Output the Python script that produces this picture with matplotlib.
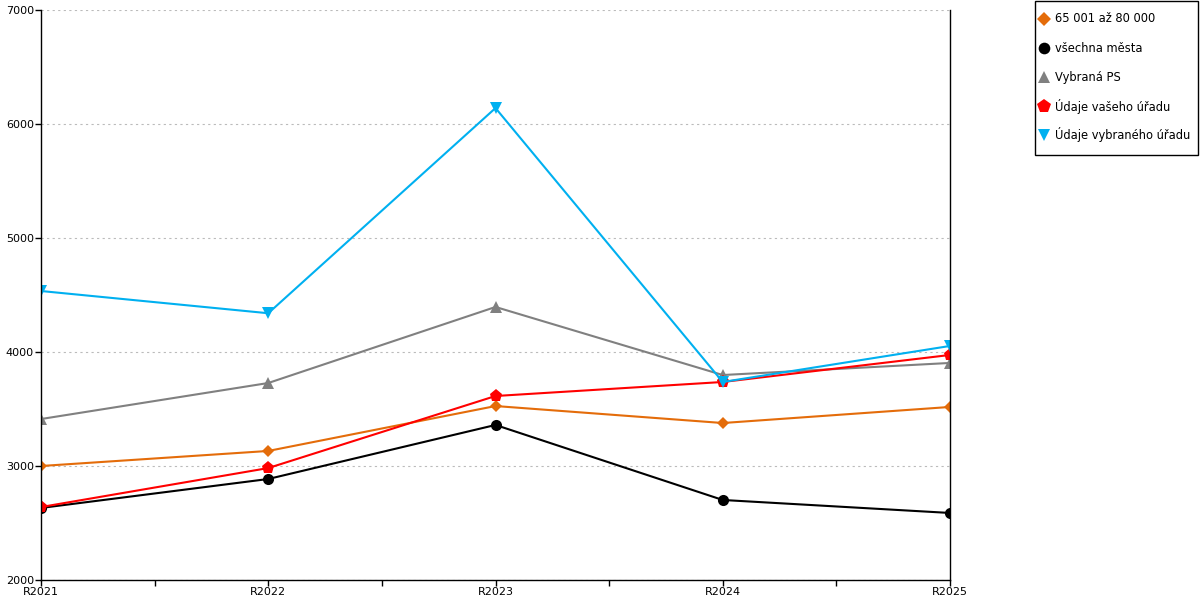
import matplotlib.pyplot as plt
from matplotlib.lines import Line2D
from matplotlib.patches import Rectangle

years = ["R2021", "R2022", "R2023", "R2024", "R2025"]

mesta_65_80 = [3000, 3132, 3526, 3377, 3518]
vsechna_mesta = [2632, 2886, 3360, 2702, 2588]
vybrana_ps = [3412, 3728, 4395, 3798, 3904]
vas_urad = [2640, 2982, 3614, 3737, 3974]
vybrany_urad = [4535, 4340, 6140, 3737, 4053]

series = [
    ("65 001 až 80 000", mesta_65_80, "#E46C0A", "D", 6.5),
    ("všechna města", vsechna_mesta, "#000000", "o", 8),
    ("Vybraná PS", vybrana_ps, "#808080", "^", 8.5),
    ("Údaje vašeho úřadu", vas_urad, "#FF0000", "p", 9.5),
    ("Údaje vybraného úřadu", vybrany_urad, "#00B0F0", "v", 8.5),
]

plt.rcParams['font.family'] = ['DejaVu Sans']

W, H = 1200, 600
fig = plt.figure(figsize=(12, 6), dpi=100)
ax = fig.add_axes([41 / W, 1 - 580 / H, 909 / W, 570 / H])

x = list(range(len(years)))
for name, vals, col, mk, ms in series:
    ax.plot(x, vals, color=col, lw=1.5, marker=mk, markersize=ms,
            markeredgewidth=0, label=name)

ax.set_xlim(0, 4)
ax.set_ylim(2000, 7000)
ax.set_xticks(x)
ax.set_xticklabels(years)
ax.set_xticks([0.5, 1.5, 2.5, 3.5], minor=True)
ax.set_yticks([2000, 3000, 4000, 5000, 6000, 7000])
ax.tick_params(axis="both", which="both", direction="out", length=4,
               width=1, labelsize=8, pad=1)
ax.yaxis.grid(True, linestyle=(0, (2, 3)), color="#BBBBBB", lw=0.8)
ax.set_axisbelow(True)
ax.spines["top"].set_visible(False)
for s in ["left", "right", "bottom"]:
    ax.spines[s].set_linewidth(1)
    ax.spines[s].set_color("black")

# legend box drawn by hand so the padding matches
fig.add_artist(Rectangle((1035 / W, 1 - 155 / H), 163 / W, 154 / H,
                         transform=fig.transFigure, fill=False,
                         edgecolor="black", lw=1))
for i, (name, vals, col, mk, ms) in enumerate(series):
    yy = 1 - (19 + 29 * i) / H
    fig.add_artist(Line2D([1044 / W], [yy], transform=fig.transFigure,
                          marker=mk, markersize=ms * 1.05, color=col,
                          markeredgewidth=0, linestyle="none"))
    fig.text(1055 / W, yy, name, fontsize=8.3, va="center", ha="left")

fig.savefig("out.png", dpi=100)
